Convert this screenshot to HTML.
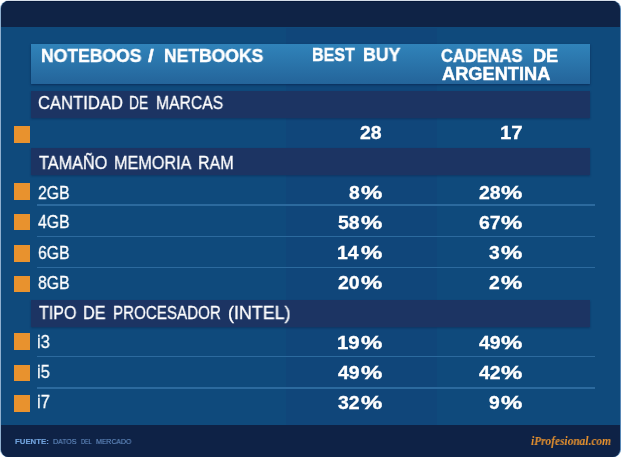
<!DOCTYPE html>
<html><head><meta charset="utf-8">
<style>
html,body{margin:0;padding:0;background:#fff;}
body{width:621px;height:457px;position:relative;overflow:hidden;font-family:"Liberation Sans",sans-serif;color:#fff;}
#card{position:absolute;left:1px;top:1px;width:619px;height:456px;border-radius:8px 8px 7.5px 7.5px;background:#0f4a7c;overflow:hidden;}
#edge{position:absolute;left:1px;top:1px;width:619px;height:456px;border-radius:8px 8px 7.5px 7.5px;box-shadow:-1px 0 0 #8fb0d0,1px 0 0 #5a88b6,0 -1px 0 #d5dde8;}
#topband{position:absolute;left:0;top:0;width:619px;height:26.3px;background:#0f2346;box-shadow:inset 0 1px 0 #06183a;}
#botband{position:absolute;left:0;top:424px;width:619px;height:40px;background:#0e2246;}
#col{position:absolute;left:285px;top:26.5px;width:151px;height:397.5px;background:#10467a;}
#hdr{position:absolute;left:30px;top:43px;width:559px;height:40px;background:linear-gradient(#3083ba,#2a74aa 50%,#24649a);box-shadow:0 .5px 2px rgba(8,28,66,.6);}
.sec{position:absolute;left:30px;width:559px;height:27.2px;background:#1c3463;box-shadow:0 1px 2px rgba(10,30,70,.45);}
.sq{position:absolute;left:13px;width:16px;height:16.5px;background:#e8922e;}
.ln{position:absolute;left:36px;width:558px;height:1.6px;background:#2c6a9e;}
.t{position:absolute;white-space:nowrap;transform-origin:0 0;line-height:normal;will-change:transform;}
</style></head><body>
<div id="edge"></div>
<div id="card">
<div id="topband"></div>
<div id="col"></div>
<div id="botband"></div>
<div id="hdr"></div>
<div class="sec" style="top:89.7px"></div>
<div class="sec" style="top:147.3px"></div>
<div class="sec" style="top:299.3px"></div>
<div class="sq" style="top:125px"></div>
<div class="sq" style="top:182.1px"></div>
<div class="sq" style="top:212.8px"></div>
<div class="sq" style="top:244px"></div>
<div class="sq" style="top:274.7px"></div>
<div class="sq" style="top:332px"></div>
<div class="sq" style="top:363.8px"></div>
<div class="sq" style="top:394.2px"></div>
<div class="ln" style="top:203.2px"></div>
<div class="ln" style="top:234.5px"></div>
<div class="ln" style="top:265.5px"></div>
<div class="ln" style="top:354.8px"></div>
<div class="ln" style="top:386.4px"></div>
<div class="t" style="left:40.16px;top:44.60px;font-size:18px;transform:scaleX(0.9748);font-weight:bold;-webkit-text-stroke:0.45px #fff;">NOTEBOOS</div>
<div class="t" style="left:147.13px;top:44.60px;font-size:18px;transform:scaleX(1.1460);font-weight:bold;-webkit-text-stroke:0.45px #fff;">/</div>
<div class="t" style="left:162.66px;top:44.60px;font-size:18px;transform:scaleX(0.9726);font-weight:bold;-webkit-text-stroke:0.45px #fff;">NETBOOKS</div>
<div class="t" style="left:311.24px;top:44.20px;font-size:18px;transform:scaleX(0.8919);font-weight:bold;-webkit-text-stroke:0.45px #fff;">BEST</div>
<div class="t" style="left:361.85px;top:44.20px;font-size:18px;transform:scaleX(0.9846);font-weight:bold;-webkit-text-stroke:0.45px #fff;">BUY</div>
<div class="t" style="left:440.44px;top:45.00px;font-size:18px;transform:scaleX(0.9149);font-weight:bold;-webkit-text-stroke:0.45px #fff;">CADENAS</div>
<div class="t" style="left:531.63px;top:45.00px;font-size:18px;transform:scaleX(1.0096);font-weight:bold;-webkit-text-stroke:0.45px #fff;">DE</div>
<div class="t" style="left:440.94px;top:62.80px;font-size:18px;transform:scaleX(1.0124);font-weight:bold;-webkit-text-stroke:0.45px #fff;">ARGENTINA</div>
<div class="t" style="left:36.69px;top:91.80px;font-size:18px;transform:scaleX(0.9230);-webkit-text-stroke:0.3px #fff;">CANTIDAD</div>
<div class="t" style="left:128.02px;top:91.80px;font-size:18px;transform:scaleX(0.7675);-webkit-text-stroke:0.3px #fff;">DE</div>
<div class="t" style="left:155.32px;top:91.80px;font-size:18px;transform:scaleX(0.8726);-webkit-text-stroke:0.3px #fff;">MARCAS</div>
<div class="t" style="left:37.59px;top:152.00px;font-size:18px;transform:scaleX(0.9016);-webkit-text-stroke:0.3px #fff;">TAMAÑO</div>
<div class="t" style="left:113.19px;top:152.00px;font-size:18px;transform:scaleX(0.9003);-webkit-text-stroke:0.3px #fff;">MEMORIA</div>
<div class="t" style="left:196.70px;top:152.00px;font-size:18px;transform:scaleX(0.8925);-webkit-text-stroke:0.3px #fff;">RAM</div>
<div class="t" style="left:37.79px;top:301.90px;font-size:18px;transform:scaleX(0.8909);-webkit-text-stroke:0.3px #fff;">TIPO</div>
<div class="t" style="left:82.09px;top:301.90px;font-size:18px;transform:scaleX(0.9009);-webkit-text-stroke:0.3px #fff;">DE</div>
<div class="t" style="left:111.95px;top:301.90px;font-size:18px;transform:scaleX(0.8425);-webkit-text-stroke:0.3px #fff;">PROCESADOR</div>
<div class="t" style="left:227.20px;top:301.90px;font-size:18px;transform:scaleX(0.9920);-webkit-text-stroke:0.3px #fff;">(INTEL)</div>
<div class="t" style="left:36.89px;top:180.90px;font-size:18.5px;transform:scaleX(0.8512);-webkit-text-stroke:0.3px #fff;">2GB</div>
<div class="t" style="left:36.89px;top:210.40px;font-size:18.5px;transform:scaleX(0.8512);-webkit-text-stroke:0.3px #fff;">4GB</div>
<div class="t" style="left:36.89px;top:240.80px;font-size:18.5px;transform:scaleX(0.8512);-webkit-text-stroke:0.3px #fff;">6GB</div>
<div class="t" style="left:36.89px;top:271.40px;font-size:18.5px;transform:scaleX(0.8512);-webkit-text-stroke:0.3px #fff;">8GB</div>
<div class="t" style="left:36.19px;top:330.00px;font-size:18.5px;transform:scaleX(0.9016);-webkit-text-stroke:0.3px #fff;">i3</div>
<div class="t" style="left:36.19px;top:360.10px;font-size:18.5px;transform:scaleX(0.9016);-webkit-text-stroke:0.3px #fff;">i5</div>
<div class="t" style="left:36.19px;top:390.40px;font-size:18.5px;transform:scaleX(0.9016);-webkit-text-stroke:0.3px #fff;">i7</div>
<div class="t" style="left:358.89px;top:121.00px;font-size:18.5px;transform:scaleX(1.0508);font-weight:bold;-webkit-text-stroke:0.3px #fff;">28</div>
<div class="t" style="left:498.58px;top:121.00px;font-size:18.5px;transform:scaleX(1.1053);font-weight:bold;-webkit-text-stroke:0.3px #fff;">17</div>
<div class="t" style="left:359.63px;top:180.80px;font-size:18.5px;transform:scaleX(1.2894);font-weight:bold;-webkit-text-stroke:0.45px #fff;">%</div>
<div class="t" style="left:347.69px;top:180.80px;font-size:18.5px;transform:scaleX(1.0420);font-weight:bold;-webkit-text-stroke:0.3px #fff;">8</div>
<div class="t" style="left:500.44px;top:180.80px;font-size:18.5px;transform:scaleX(1.2894);font-weight:bold;-webkit-text-stroke:0.45px #fff;">%</div>
<div class="t" style="left:477.59px;top:180.80px;font-size:18.5px;transform:scaleX(1.0508);font-weight:bold;-webkit-text-stroke:0.3px #fff;">28</div>
<div class="t" style="left:359.63px;top:210.70px;font-size:18.5px;transform:scaleX(1.2894);font-weight:bold;-webkit-text-stroke:0.45px #fff;">%</div>
<div class="t" style="left:336.79px;top:210.70px;font-size:18.5px;transform:scaleX(1.0508);font-weight:bold;-webkit-text-stroke:0.3px #fff;">58</div>
<div class="t" style="left:500.44px;top:210.70px;font-size:18.5px;transform:scaleX(1.2894);font-weight:bold;-webkit-text-stroke:0.45px #fff;">%</div>
<div class="t" style="left:477.59px;top:210.70px;font-size:18.5px;transform:scaleX(1.0508);font-weight:bold;-webkit-text-stroke:0.3px #fff;">67</div>
<div class="t" style="left:359.63px;top:240.80px;font-size:18.5px;transform:scaleX(1.2894);font-weight:bold;-webkit-text-stroke:0.45px #fff;">%</div>
<div class="t" style="left:335.74px;top:240.80px;font-size:18.5px;transform:scaleX(1.0508);font-weight:bold;-webkit-text-stroke:0.3px #fff;">14</div>
<div class="t" style="left:500.44px;top:240.80px;font-size:18.5px;transform:scaleX(1.2894);font-weight:bold;-webkit-text-stroke:0.45px #fff;">%</div>
<div class="t" style="left:488.49px;top:240.80px;font-size:18.5px;transform:scaleX(1.0420);font-weight:bold;-webkit-text-stroke:0.3px #fff;">3</div>
<div class="t" style="left:359.63px;top:270.90px;font-size:18.5px;transform:scaleX(1.2894);font-weight:bold;-webkit-text-stroke:0.45px #fff;">%</div>
<div class="t" style="left:336.79px;top:270.90px;font-size:18.5px;transform:scaleX(1.0508);font-weight:bold;-webkit-text-stroke:0.3px #fff;">20</div>
<div class="t" style="left:500.44px;top:270.90px;font-size:18.5px;transform:scaleX(1.2894);font-weight:bold;-webkit-text-stroke:0.45px #fff;">%</div>
<div class="t" style="left:488.49px;top:270.90px;font-size:18.5px;transform:scaleX(1.0420);font-weight:bold;-webkit-text-stroke:0.3px #fff;">2</div>
<div class="t" style="left:359.63px;top:330.80px;font-size:18.5px;transform:scaleX(1.2894);font-weight:bold;-webkit-text-stroke:0.45px #fff;">%</div>
<div class="t" style="left:335.68px;top:330.80px;font-size:18.5px;transform:scaleX(1.1053);font-weight:bold;-webkit-text-stroke:0.3px #fff;">19</div>
<div class="t" style="left:500.44px;top:330.80px;font-size:18.5px;transform:scaleX(1.2894);font-weight:bold;-webkit-text-stroke:0.45px #fff;">%</div>
<div class="t" style="left:477.59px;top:330.80px;font-size:18.5px;transform:scaleX(1.0508);font-weight:bold;-webkit-text-stroke:0.3px #fff;">49</div>
<div class="t" style="left:359.63px;top:361.00px;font-size:18.5px;transform:scaleX(1.2894);font-weight:bold;-webkit-text-stroke:0.45px #fff;">%</div>
<div class="t" style="left:336.79px;top:361.00px;font-size:18.5px;transform:scaleX(1.0508);font-weight:bold;-webkit-text-stroke:0.3px #fff;">49</div>
<div class="t" style="left:500.44px;top:361.00px;font-size:18.5px;transform:scaleX(1.2894);font-weight:bold;-webkit-text-stroke:0.45px #fff;">%</div>
<div class="t" style="left:477.59px;top:361.00px;font-size:18.5px;transform:scaleX(1.0508);font-weight:bold;-webkit-text-stroke:0.3px #fff;">42</div>
<div class="t" style="left:359.63px;top:390.90px;font-size:18.5px;transform:scaleX(1.2894);font-weight:bold;-webkit-text-stroke:0.45px #fff;">%</div>
<div class="t" style="left:336.79px;top:390.90px;font-size:18.5px;transform:scaleX(1.0508);font-weight:bold;-webkit-text-stroke:0.3px #fff;">32</div>
<div class="t" style="left:500.44px;top:390.90px;font-size:18.5px;transform:scaleX(1.2894);font-weight:bold;-webkit-text-stroke:0.45px #fff;">%</div>
<div class="t" style="left:488.49px;top:390.90px;font-size:18.5px;transform:scaleX(1.0420);font-weight:bold;-webkit-text-stroke:0.3px #fff;">9</div>
<div class="t" style="left:14.04px;top:435.50px;font-size:7.4px;transform:scaleX(1.0554);font-weight:bold;color:#71a2dc;-webkit-text-stroke:0.15px #71a2dc;">FUENTE:</div>
<div class="t" style="left:51.84px;top:435.50px;font-size:7.4px;transform:scaleX(0.9509);color:#6790c6;-webkit-text-stroke:0.12px #6790c6;">DATOS</div>
<div class="t" style="left:80.34px;top:435.50px;font-size:7.4px;transform:scaleX(0.7449);color:#6790c6;-webkit-text-stroke:0.12px #6790c6;">DEL</div>
<div class="t" style="left:95.24px;top:435.50px;font-size:7.4px;transform:scaleX(0.9343);color:#6790c6;-webkit-text-stroke:0.12px #6790c6;">MERCADO</div>
<div class="t" style="left:530.00px;top:432.60px;font-size:12px;transform:scaleX(0.9477);font-weight:bold;color:#e8922e;font-style:italic;font-family:'Liberation Serif',serif;">iProfesional.com</div>
</div>
</body></html>
